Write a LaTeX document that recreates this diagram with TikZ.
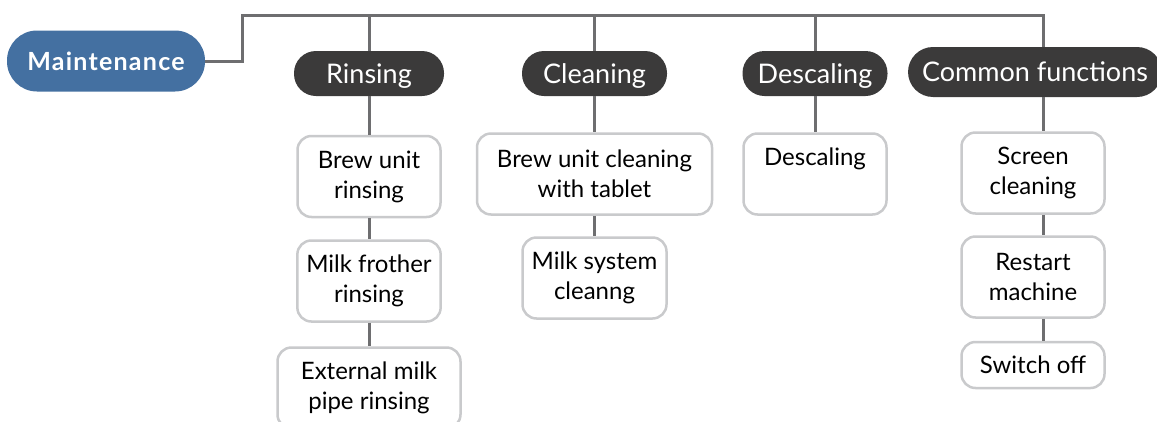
\documentclass[tikz,border=0pt]{standalone}
\usepackage{fontspec}
\setmainfont{Lato}
\definecolor{rootblue}{HTML}{4470A1}
\definecolor{catdark}{HTML}{3B3A3A}
\definecolor{linkgray}{HTML}{6E6E70}
\definecolor{boxgray}{HTML}{C9CACC}
\begin{document}
\begin{tikzpicture}[x=1pt,y=-1pt,
  root/.style={fill=rootblue, text=white, rounded corners=30pt, minimum width=198pt, minimum height=61pt,
    font=\fontsize{25}{30}\selectfont\bfseries\addfontfeature{LetterSpace=5}},
  cat/.style={fill=catdark, text=white, rounded corners=22pt, minimum width=145pt, minimum height=45pt,
    inner xsep=14pt, text height=22pt, text depth=3pt, font=\fontsize{27}{32}\selectfont},
  leaf/.style={draw=boxgray, line width=2.5pt, fill=white, rounded corners=14pt, minimum width=143pt,
    minimum height=81pt, inner xsep=9pt, align=center, font=\fontsize{24}{30}\selectfont},
  link/.style={draw=linkgray, line width=3pt}]
\useasboundingbox (0,0) rectangle (1157,421);
\coordinate (j0) at (242,15);
\coordinate (j1) at (1043,15);
\node[root] (maint) at (106,61){Maintenance};
\node[cat, minimum width=150pt] (rins) at (369,73.5){Rinsing};
\node[cat] (clean) at (594.5,73.5){Cleaning};
\node[cat] (desc) at (815,73.5){Descaling};
\node[cat, minimum height=50pt, rounded corners=25pt] (comm) at (1035,72){Common functions};
\node[leaf] (rins0) at (369,176.5){Brew unit\\rinsing};
\node[leaf] (rins1) at (369,281){Milk frother\\rinsing};
\node[leaf, minimum width=183pt] (rins2) at (369,388){External milk\\pipe rinsing};
\node[leaf, minimum width=235pt] (clean0) at (594.5,174){Brew unit cleaning\\with tablet};
\node[leaf, minimum width=144pt] (clean1) at (594.5,278){Milk system\\cleanng};
\node[leaf] (desc0) at (815,174){Descaling\\\vphantom{g}};
\node[leaf] (comm0) at (1033,173){Screen\\cleaning};
\node[leaf] (comm1) at (1033,277){Restart\\machine};
\node[leaf, minimum height=46pt] (comm2) at (1033,365){Switch off};
\draw[link](maint.east) -| (j0) -- (j1) -- (comm.north -| j1);
\draw[link](rins |- j0) -- (rins);
\draw[link](clean |- j0) -- (clean);
\draw[link](desc |- j0) -- (desc);
\draw[link](rins) -- (rins0);
\draw[link](rins0) -- (rins1);
\draw[link](rins1) -- (rins2);
\draw[link](clean) -- (clean0);
\draw[link](clean0) -- (clean1);
\draw[link](desc) -- (desc0);
\draw[link](comm.south -| j1) -- (comm0.north -| j1);
\draw[link](comm0.south -| j1) -- (comm1.north -| j1);
\draw[link](comm1.south -| j1) -- (comm2.north -| j1);
\end{tikzpicture}
\end{document}
